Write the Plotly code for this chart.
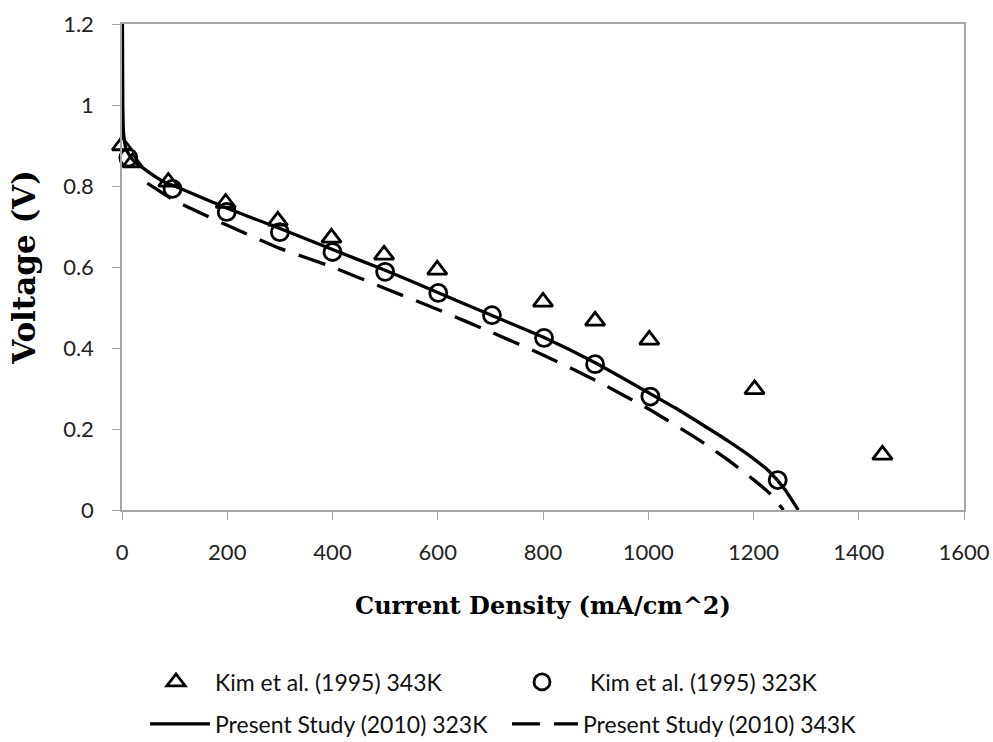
import plotly.graph_objects as go

# Kim et al. (1995) 343K  (triangles)
kim343_x = [0, 20, 88, 197, 296, 398, 498, 599, 800, 899, 1002, 1202, 1445]
kim343_y = [0.90, 0.858, 0.81, 0.758, 0.714, 0.672, 0.63, 0.593, 0.514, 0.467, 0.42, 0.298, 0.136]

# Kim et al. (1995) 323K  (circles)
kim323_x = [12, 96, 199, 300, 400, 500, 601, 703, 802, 899, 1004, 1246]
kim323_y = [0.87, 0.793, 0.736, 0.686, 0.637, 0.588, 0.536, 0.481, 0.425, 0.36, 0.28, 0.074]

# Present Study (2010) 323K  (solid)
ps323_x = [0.5, 1.5, 3, 8, 20, 50, 80, 100, 200, 300, 400, 500, 600, 700, 800, 900,
           1000, 1050, 1100, 1150, 1200, 1230, 1260, 1285]
ps323_y = [1.3, 1.0, 0.93, 0.89, 0.865, 0.835, 0.81, 0.80, 0.745, 0.695, 0.643, 0.592,
           0.537, 0.482, 0.427, 0.363, 0.29, 0.253, 0.213, 0.172, 0.127, 0.095, 0.05, 0.0]

# Present Study (2010) 343K  (dashed)
ps343_x = [48, 100, 200, 300, 400, 500, 600, 700, 800, 900, 1000, 1100, 1150, 1200, 1230, 1257]
ps343_y = [0.807, 0.764, 0.703, 0.646, 0.60, 0.547, 0.495, 0.44, 0.383, 0.32, 0.25, 0.17,
           0.125, 0.075, 0.042, 0.0]

x_ticks = [0, 200, 400, 600, 800, 1000, 1200, 1400, 1600]
y_ticks = [0, 0.2, 0.4, 0.6, 0.8, 1.0, 1.2]

sans = "Lato, 'Open Sans', sans-serif"
serif = "'DejaVu Serif', 'Liberation Serif', serif"
axis_gray = "#a6a6a6"
W, H = 993, 742

fig = go.Figure()
fig.add_trace(go.Scatter(
    x=kim343_x, y=kim343_y, mode="markers", name="Kim et al. (1995) 343K",
    marker=dict(symbol="triangle-up-open", size=17, color="black", line=dict(width=2.8, color="black")),
    cliponaxis=False, legend="legend"))
fig.add_trace(go.Scatter(
    x=kim323_x, y=kim323_y, mode="markers", name="Kim et al. (1995) 323K",
    marker=dict(symbol="circle-open", size=17, color="black", line=dict(width=2.8, color="black")),
    cliponaxis=False, legend="legend2"))
fig.add_trace(go.Scatter(
    x=ps323_x, y=ps323_y, mode="lines", name="Present Study (2010) 323K",
    line=dict(color="black", width=3.3, shape="spline", smoothing=0.5), legend="legend3"))
fig.add_trace(go.Scatter(
    x=ps343_x, y=ps343_y, mode="lines", name="Present Study (2010) 343K",
    line=dict(color="black", width=3.3, dash="28px,14px", shape="spline", smoothing=0.5), legend="legend4"))

def leg(x_px, y_px, itemw):
    return dict(orientation="h", xref="container", yref="container",
                x=x_px / W, xanchor="left", y=1 - y_px / H, yanchor="middle",
                font=dict(size=23, family=sans, color="#111"), itemwidth=itemw,
                bgcolor="rgba(0,0,0,0)", borderwidth=0)

fig.update_layout(
    width=W, height=H,
    margin=dict(l=122, r=29, t=24, b=232, autoexpand=False),
    paper_bgcolor="white", plot_bgcolor="white",
    font=dict(family=sans, color="black"),
    xaxis=dict(
        range=[0, 1600], tickvals=x_ticks, ticks="outside", ticklen=8, tickcolor=axis_gray,
        showline=True, linecolor=axis_gray, linewidth=1.5, mirror=True, showgrid=False,
        zeroline=False, tickfont=dict(size=22, family=sans, color="#222"),
        ticklabelstandoff=14,
        title=dict(text="<b>Current Density (mA/cm^2)</b>", font=dict(family=serif, size=24), standoff=33),
    ),
    yaxis=dict(
        range=[0, 1.2], tickvals=y_ticks, ticks="outside", ticklen=8, tickcolor=axis_gray,
        showline=True, linecolor=axis_gray, linewidth=1.5, mirror=True, showgrid=False,
        zeroline=False, tickfont=dict(size=22, family=sans, color="#222"),
        ticklabelstandoff=14,
        title=dict(text="<b>Voltage (V)</b>", font=dict(family=serif, size=31), standoff=18),
    ),
    legend=leg(137, 682, 68),
    legend2=leg(494, 682, 86),
    legend3=leg(145, 724, 60),
    legend4=leg(507, 724, 66),
    showlegend=True,
)

fig.write_html("out.html")
